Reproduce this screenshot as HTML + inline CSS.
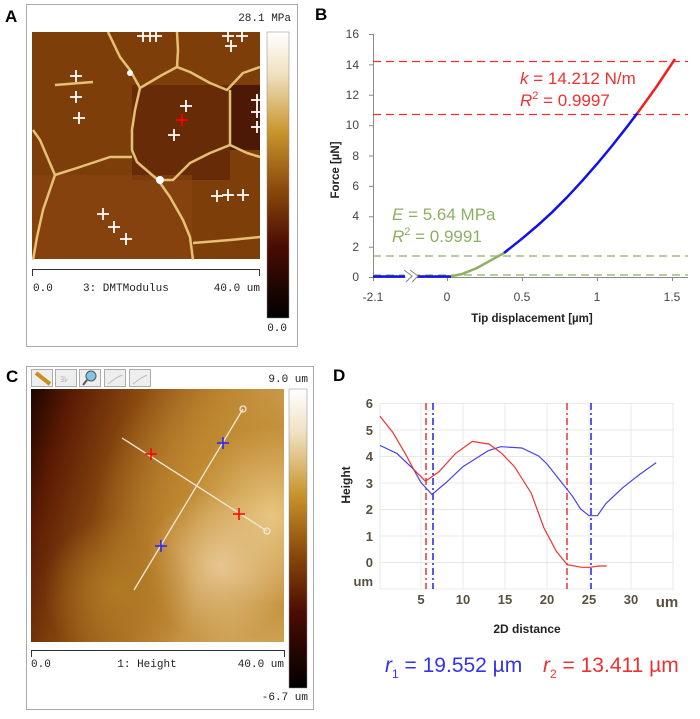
<!DOCTYPE html>
<html><head><meta charset="utf-8"><style>
body{margin:0;background:#fff;}
svg{display:block;font-family:"Liberation Sans",sans-serif;}
.mono{font-family:"Liberation Mono",monospace;font-size:11px;fill:#222;}
</style></head><body>
<svg width="700" height="719" viewBox="0 0 700 719" xmlns="http://www.w3.org/2000/svg">
<defs>
<linearGradient id="cb" x1="0" y1="0" x2="0" y2="1">
<stop offset="0" stop-color="#ffffff"/><stop offset="0.15" stop-color="#efe0bf"/><stop offset="0.35" stop-color="#c9952c"/><stop offset="0.55" stop-color="#8a4a0c"/><stop offset="0.75" stop-color="#4a0c02"/><stop offset="1" stop-color="#000"/>
</linearGradient>
<radialGradient id="c1" cx="0.95" cy="0.5" r="0.7"><stop offset="0" stop-color="#e8c680"/><stop offset="0.5" stop-color="#c08a30" stop-opacity="0.8"/><stop offset="1" stop-color="#c08a30" stop-opacity="0"/></radialGradient>
<linearGradient id="c0" x1="0" y1="0" x2="1" y2="0.3"><stop offset="0" stop-color="#1e0500"/><stop offset="0.15" stop-color="#5a1a04"/><stop offset="0.4" stop-color="#8a4a10"/><stop offset="0.7" stop-color="#b88030"/><stop offset="1" stop-color="#d9b470"/></linearGradient>
<radialGradient id="c2" cx="0.75" cy="0.7" r="0.3"><stop offset="0" stop-color="#e6c690"/><stop offset="1" stop-color="#e6c690" stop-opacity="0"/></radialGradient>
<radialGradient id="c3" cx="0.35" cy="0.8" r="0.3"><stop offset="0" stop-color="#b07a24"/><stop offset="1" stop-color="#b07a24" stop-opacity="0"/></radialGradient>
</defs>

<!-- Panel A -->
<text x="5" y="22" font-size="17" font-weight="bold">A</text>
<rect x="26.5" y="4.5" width="271" height="342" fill="none" stroke="#aaa"/>
<text class="mono" x="291" y="21" text-anchor="end">28.1 MPa</text>
<rect x="32" y="32" width="228" height="227" fill="#7e3e0a"/>
<rect x="132" y="85" width="98" height="95" fill="#5e2406" opacity="0.7"/>
<rect x="230" y="85" width="30" height="65" fill="#3e1004" opacity="0.8"/>
<rect x="32" y="175" width="160" height="84" fill="#8a4610" opacity="0.6"/>
<g fill="none" stroke="#f0d080" stroke-width="2.5" stroke-linejoin="round" opacity="0.9">
<polyline points="108,32 120,57 130,70 140,88 162,75 177,67 190,72 210,83 227,90 243,73 260,67"/>
<polyline points="140,88 135,110 132,130 132,150 137,162 158,180 173,180 190,163 210,153 230,145 230,90"/>
<polyline points="177,67 178,50 177,32"/>
<polyline points="132,157 110,157 80,167 55,175 43,210 37,237 33,260"/>
<polyline points="55,175 40,140 33,130"/>
<polyline points="158,180 170,197 183,220 190,237 193,260"/>
<polyline points="230,145 247,153 260,157"/>
<polyline points="193,243 230,240 260,237"/>
<polyline points="55,85 93,82"/>
</g>
<circle cx="130" cy="73" r="3" fill="#fff"/><circle cx="160" cy="180" r="4" fill="#fff"/>
<g stroke="#fff" stroke-width="1.8">
<path d="M137 36h12M143 30v12M144 36h12M150 30v12M150 36h12M156 30v12M222 36h12M228 30v12M236 36h12M242 30v12M225 46h12M231 40v12M70 76h12M76 70v12M70 97h12M76 91v12M73 118h12M79 112v12M180 106h12M186 100v12M168 135h12M174 129v12M251 100h12M257 94v12M251 112h12M257 106v12M251 127h12M257 121v12M211 196h12M217 190v12M222 195h12M228 189v12M237 195h12M243 189v12M97 214h12M103 208v12M108 227h12M114 221v12M120 239h12M126 233v12"/>
</g>
<path d="M176 120h12M182 114v12" stroke="#f00" stroke-width="1.8"/>
<rect x="267" y="32" width="22" height="286" fill="url(#cb)" stroke="#888" stroke-width="0.5"/>
<path d="M32.5 276v-6.5h227v6.5" fill="none" stroke="#333"/>
<text class="mono" x="33" y="291">0.0</text>
<text class="mono" x="83" y="291">3: DMTModulus</text>
<text class="mono" x="260" y="291" text-anchor="end">40.0 um</text>
<text class="mono" x="287" y="331" text-anchor="end">0.0</text>

<!-- Panel B -->
<text x="315" y="20" font-size="17" font-weight="bold">B</text>
<g font-size="12" fill="#444" text-anchor="end">
<text x="359" y="38">16</text><text x="359" y="69">14</text><text x="359" y="99">12</text><text x="359" y="129">10</text><text x="359" y="160">8</text><text x="359" y="190">6</text><text x="359" y="220">4</text><text x="359" y="251">2</text><text x="359" y="281">0</text>
</g>
<g font-size="12" fill="#444" text-anchor="middle">
<text x="373" y="301">-2.1</text><text x="447" y="301">0</text><text x="522" y="301">0.5</text><text x="597" y="301">1</text><text x="672" y="301">1.5</text>
</g>
<text x="532" y="322" font-size="11.5" font-weight="bold" fill="#222" text-anchor="middle">Tip displacement [µm]</text>
<text transform="translate(339,170) rotate(-90)" font-size="11.5" font-weight="bold" fill="#222" text-anchor="middle">Force [µN]</text>
<g stroke="#888" fill="none">
<path d="M373.5 34v243.5H688"/>
<path d="M369 34.5h4M369 64.9h4M369 95.3h4M369 125.7h4M369 156h4M369 186.4h4M369 216.8h4M369 247.2h4M369 277.5h4"/>
<path d="M373.5 277v4M447.5 277v4M522.5 277v4M597.5 277v4M672.5 277v4"/>
</g>
<g stroke-dasharray="8,5" stroke-width="1.2">
<path d="M373 61.5H688M373 114.5H688" stroke="#f03030"/>
<path d="M373 256H688M373 275H688" stroke="#8db060"/>
</g>
<path d="M373 276.5H451" stroke="#1010ee" stroke-width="2.5"/>
<path d="M404 270l8 6l-6 6M410 270l8 6l-6 6" stroke="#888" fill="#fff" stroke-width="1"/>
<path d="M451 276.3 L462 274 L477 268 L492 259.7 L504 253" stroke="#8db060" stroke-width="2.5" fill="none"/>
<path d="M504 253 L522 238.7 L537 226 L552 212.3 L567 197.3 L582 181.1 L597 164 L612 145.9 L627 126.8 L637.5 113" stroke="#1010ee" stroke-width="2.5" fill="none"/>
<path d="M637.5 113 L642 106.9 L657 86 L675 59" stroke="#f02020" stroke-width="2.5" fill="none"/>
<g font-size="17" fill="#f03030">
<text x="520" y="84"><tspan font-style="italic">k</tspan> = 14.212 N/m</text>
<text x="520" y="106"><tspan font-style="italic">R</tspan><tspan font-size="11" dy="-7">2</tspan><tspan dy="7"> = 0.9997</tspan></text>
</g>
<g font-size="17" fill="#8db060">
<text x="392" y="220"><tspan font-style="italic">E</tspan> = 5.64 MPa</text>
<text x="392" y="242"><tspan font-style="italic">R</tspan><tspan font-size="11" dy="-7">2</tspan><tspan dy="7"> = 0.9991</tspan></text>
</g>

<!-- Panel C -->
<text x="6" y="382" font-size="17" font-weight="bold">C</text>
<rect x="26.5" y="366.5" width="287" height="343" fill="none" stroke="#aaa"/>
<g fill="#eee" stroke="#999" stroke-width="0.8">
<rect x="31.5" y="369.5" width="21" height="17"/><rect x="55.5" y="369.5" width="21" height="17"/><rect x="79.5" y="369.5" width="21" height="17"/><rect x="104.5" y="369.5" width="21" height="17"/><rect x="129.5" y="369.5" width="21" height="17"/>
</g>
<path d="M36 373l14 11" stroke="#c8901a" stroke-width="4"/>
<circle cx="91" cy="376" r="5" fill="#7cc8e8" stroke="#555"/><path d="M87 380l-4 5" stroke="#555" stroke-width="2"/>
<text x="60" y="382" font-size="8" fill="#aaa">ﾖﾚ</text>
<path d="M108 384l8-6l6-3M133 384l8-6l6-3" stroke="#bbb" fill="none"/>
<text class="mono" x="308" y="382" text-anchor="end">9.0 um</text>
<rect x="31" y="389" width="253" height="253" fill="url(#c0)"/>
<rect x="31" y="389" width="253" height="253" fill="url(#c1)"/>
<rect x="31" y="389" width="253" height="253" fill="url(#c2)"/>
<rect x="31" y="389" width="253" height="253" fill="url(#c3)"/>
<g stroke="#f0e8d8" stroke-width="1.3" fill="none">
<path d="M122 438L267 531M134 590L243 409"/>
<circle cx="267" cy="531" r="3"/><circle cx="243" cy="409" r="3"/>
</g>
<path d="M145 454h12M151 448v12M233 514h12M239 508v12" stroke="#f00" stroke-width="1.5"/>
<path d="M217 443h12M223 437v12M155 546h12M161 540v12" stroke="#22f" stroke-width="1.5"/>
<rect x="289" y="389" width="18" height="299" fill="url(#cb)" stroke="#888" stroke-width="0.5"/>
<path d="M31.5 657v-6.5h253v6.5" fill="none" stroke="#333"/>
<text class="mono" x="31" y="667">0.0</text>
<text class="mono" x="147" y="667" text-anchor="middle">1: Height</text>
<text class="mono" x="284" y="667" text-anchor="end">40.0 um</text>
<text class="mono" x="308" y="700" text-anchor="end">-6.7 um</text>

<!-- Panel D -->
<text x="333" y="381" font-size="17" font-weight="bold">D</text>
<g stroke="#e8e8e8" stroke-width="1">
<path d="M380 403.5H674M380 430H674M380 456.5H674M380 483H674M380 509.5H674M380 536H674M380 562.5H674M380 589H674"/>
<path d="M380 403V589M421 403V589M463 403V589M505 403V589M547 403V589M589 403V589M631 403V589M673 403V589"/>
</g>
<g font-size="13" font-weight="bold" fill="#5a5040" text-anchor="end">
<text x="373" y="408">6</text><text x="373" y="435">5</text><text x="373" y="461">4</text><text x="373" y="488">3</text><text x="373" y="514">2</text><text x="373" y="541">1</text><text x="373" y="567">0</text><text x="373" y="586">um</text>
</g>
<g font-size="13" font-weight="bold" fill="#5a5040" text-anchor="middle">
<text x="421" y="604">5</text><text x="463" y="604">10</text><text x="505" y="604">15</text><text x="547" y="604">20</text><text x="589" y="604">25</text><text x="631" y="604">30</text>
</g>
<text x="667" y="607" font-size="15" font-weight="bold" fill="#5a5040" text-anchor="middle">um</text>
<text transform="translate(350,485) rotate(-90)" font-size="12" font-weight="bold" fill="#222" text-anchor="middle">Height</text>
<text x="527" y="633" font-size="12" font-weight="bold" fill="#222" text-anchor="middle">2D distance</text>
<g stroke-width="1.5" stroke-dasharray="7,3,2,3">
<path d="M426 403V589M567 403V589" stroke="#f03030"/>
<path d="M433 403V589M591 403V589" stroke="#2222ee"/>
</g>
<polyline fill="none" stroke="#4444ee" stroke-width="1.2" points="380,445.4 396.8,453.4 413.6,469.3 421,482.5 432,494.5 446.2,482.5 463,466.6 479.8,456 488.2,450.7 500.8,446.7 521.8,448 538.6,456 547,464 563.8,485.2 572.2,495.8 580.6,509 589,515.7 597.4,515.7 605.8,503.7 622.6,487.8 639.4,474.6 656.2,462.6"/>
<polyline fill="none" stroke="#f03030" stroke-width="1.2" points="380,416.3 392.6,432.1 405.2,453.4 413.6,469.3 425.4,481.2 438.8,471.9 455.6,453.4 472.4,441.4 489.2,444.1 501.8,453.4 514.4,466.6 531.2,493.1 543.8,527.6 556.4,551.4 567.3,564.7 581.6,567.3 590,567.3 598.4,566 606.8,566"/>
<g font-size="21">
<text x="385" y="672" fill="#3333ee"><tspan font-style="italic">r</tspan><tspan font-size="12" dy="6">1</tspan><tspan dy="-6"> = 19.552 µm</tspan></text>
<text x="543" y="672" fill="#f03030"><tspan font-style="italic">r</tspan><tspan font-size="12" dy="6">2</tspan><tspan dy="-6"> = 13.411 µm</tspan></text>
</g>
</svg>
</body></html>
